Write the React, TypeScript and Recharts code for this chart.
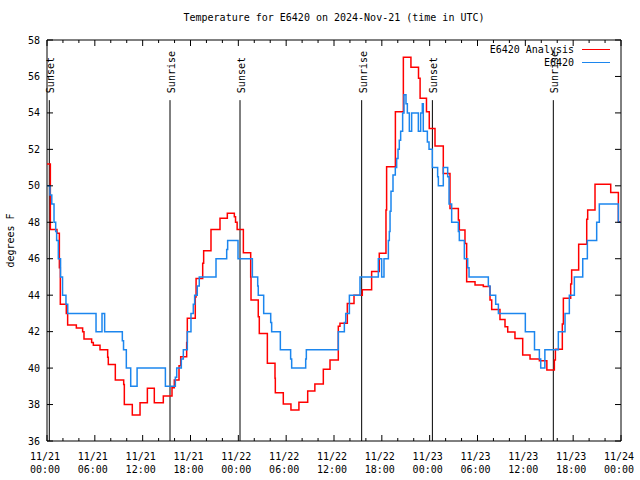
import React from "react";
import {
  LineChart,
  Line,
  XAxis,
  YAxis,
  ReferenceLine,
  ReferenceArea,
  Legend,
} from "recharts";

const FONT = "'DejaVu Sans Mono', monospace";
const PLOT_TOP = 40;
const PLOT_RIGHT = 621;

// [hours after 11/21 00:00 UTC, degrees F] - step data
const analysis: [number, number][] = [
  [0, 51.2], [0.42, 47.6], [1.25, 47.4], [1.55, 45.5], [1.67, 43.5], [2.42, 43.0],
  [2.59, 42.36], [3.68, 42.2], [4.47, 42.0], [4.64, 41.6], [5.6, 41.4], [5.81, 41.26],
  [6.65, 41.0], [7.61, 40.6], [7.69, 40.2], [8.57, 39.35], [9.62, 39.1], [9.7, 38.0],
  [10.7, 37.43], [11.67, 38.1], [12.59, 38.9], [13.46, 38.1], [14.59, 38.47], [15.68, 38.92],
  [15.97, 39.35], [16.56, 40.13], [16.77, 40.62], [17.52, 41.4], [17.6, 42.73], [18.6, 43.9],
  [18.7, 44.92], [19.53, 45.75], [19.65, 46.44], [20.57, 47.61], [21.7, 48.22], [22.62, 48.49],
  [23.5, 48.3], [23.65, 48.0], [23.85, 47.61], [24.63, 46.33], [25.55, 45.0], [25.59, 43.73],
  [26.5, 42.82], [26.63, 41.9], [27.64, 40.26], [28.6, 39.44], [28.64, 38.65], [29.64, 38.03],
  [30.6, 37.7], [31.6, 38.12], [32.7, 38.74], [33.6, 39.13], [34.66, 39.93], [35.5, 40.44],
  [36.54, 42.3], [36.75, 42.46], [37.67, 43.55], [38.51, 44.0], [39.55, 44.3], [40.72, 45.3],
  [41.68, 46.3], [42.52, 48.67], [42.6, 51.05], [43.7, 54.06], [44.7, 57.05], [45.65, 56.5],
  [46.6, 55.9], [46.8, 54.8], [47.6, 54.06], [47.95, 53.15], [48.67, 52.18], [49.71, 50.68],
  [50.55, 48.76], [51.6, 48.12], [51.72, 47.57], [52.43, 46.84], [52.64, 44.74], [53.69, 44.56],
  [54.73, 44.47], [55.57, 43.73], [55.78, 43.22], [56.82, 42.67], [57.45, 42.27], [57.79, 41.98],
  [58.7, 41.63], [59.67, 40.72], [60.59, 40.5], [61.76, 40.4], [62.7, 39.9], [63.64, 40.44],
  [63.77, 41.03], [64.64, 42.42], [64.77, 43.83], [65.69, 44.61], [65.81, 45.38], [66.69, 46.8],
  [67.7, 48.16], [67.82, 48.67], [68.74, 50.08], [70.71, 49.64], [71.67, 48.03], [72, 48.03],
];

const observed: [number, number][] = [
  [0, 50], [0.38, 49.5], [0.6, 49], [0.88, 48], [1.09, 47.5], [1.21, 47], [1.42, 46],
  [1.7, 45], [1.95, 44], [2.38, 43.5], [2.6, 43], [6.15, 42], [6.9, 43], [7.23, 42],
  [9.45, 41.5], [9.6, 41], [9.95, 40], [10.5, 39], [11.3, 40], [14.85, 39], [16.1, 39.5],
  [16.27, 40], [16.85, 40.5], [17.1, 41], [17.6, 42], [18.06, 43], [18.35, 43.5], [18.52, 44],
  [18.85, 44.5], [19.1, 45], [21.2, 46], [22.54, 46.5], [22.66, 47], [23.96, 46], [25.76, 45],
  [26.43, 44.5], [26.5, 44], [27.18, 43], [28.06, 42.5], [28.18, 42], [29.27, 41], [30.56, 40.5],
  [30.69, 40], [32.45, 40.5], [32.53, 41], [36.54, 42], [37.3, 42.5], [37.47, 43], [37.93, 44],
  [39.26, 45], [41.56, 46], [41.98, 45], [42.27, 46], [42.82, 47], [42.94, 47.5], [43.03, 48.6],
  [43.15, 49.7], [43.4, 50.6], [43.69, 51], [43.86, 51.5], [44.03, 52], [44.19, 52.5], [44.36, 53],
  [44.61, 54], [44.78, 55], [45.03, 54.5], [45.2, 54], [45.45, 53], [45.74, 54], [46.58, 53],
  [46.87, 54], [47.08, 54.5], [47.2, 53], [47.71, 52.4], [47.92, 52], [48.34, 51], [49.0, 50.5],
  [49.09, 50], [49.71, 51], [50.26, 50.5], [50.43, 49], [50.76, 48], [51.6, 47.5], [51.72, 47],
  [52.35, 46], [52.77, 45.5], [52.94, 45], [55.36, 44.5], [55.57, 44], [56.28, 43.5], [56.62, 43],
  [60.0, 42], [61.15, 41], [61.76, 40.5], [61.93, 40], [62.45, 41], [64.14, 42], [64.98, 43],
  [65.52, 44], [66.15, 45], [67.2, 46], [67.78, 47], [68.95, 48], [69.28, 49], [71.67, 48], [72, 48],
];

const seriesNames = ["E6420 Analysis", "E6420"];

const yTicks = [36, 38, 40, 42, 44, 46, 48, 50, 52, 54, 56, 58];
const xMajorHours = [0, 6, 12, 18, 24, 30, 36, 42, 48, 54, 60, 66, 72];
const xDateLabels = [
  "11/21", "11/21", "11/21", "11/21", "11/22", "11/22", "11/22",
  "11/22", "11/23", "11/23", "11/23", "11/23", "11/24",
];
const xTimeLabels = [
  "00:00", "06:00", "12:00", "18:00", "00:00", "06:00", "12:00",
  "18:00", "00:00", "06:00", "12:00", "18:00", "00:00",
];
const xAllTicks = Array.from({ length: 37 }, (_, i) => i * 2);

const sunHours = [0.29, 15.43, 24.21, 39.47, 48.34, 63.51];
const sunLabels = ["Sunset", "Sunrise", "Sunset", "Sunrise", "Sunset", "Sunrise"];
const sunLineTop = 54.7;

const analysisData = analysis.map(([t, v]) => ({ t, v }));
const observedData = observed.map(([t, v]) => ({ t, v }));

const XTick = ({ x, y, payload }: any) => {
  const i = xMajorHours.indexOf(payload.value);
  const len = i >= 0 ? 6 : 3;
  return (
    <g>
      <line x1={x} y1={y} x2={x} y2={y - len} stroke="#000" />
      <line x1={x} y1={PLOT_TOP} x2={x} y2={PLOT_TOP + len} stroke="#000" />
      {i >= 0 && (
        <text fontFamily={FONT} fontSize={10} fill="#000" textAnchor="middle">
          <tspan x={x - 2} y={y + 19}>{xDateLabels[i]}</tspan>
          <tspan x={x - 2} y={y + 32}>{xTimeLabels[i]}</tspan>
        </text>
      )}
    </g>
  );
};

const YTick = ({ x, y, payload }: any) => (
  <g>
    <line x1={x} y1={y} x2={x + 6} y2={y} stroke="#000" />
    <line x1={PLOT_RIGHT - 6} y1={y} x2={PLOT_RIGHT} y2={y} stroke="#000" />
    <text x={x - 7} y={y + 3.5} textAnchor="end" fontFamily={FONT} fontSize={10} fill="#000">
      {payload.value}
    </text>
  </g>
);

const renderLegend = (props: any) => {
  const items = [...(props.payload || [])].sort(
    (a: any, b: any) => seriesNames.indexOf(a.value) - seriesNames.indexOf(b.value)
  );
  return (
    <div style={{ fontFamily: FONT, fontSize: 10, color: "#000" }}>
      {items.map((p: any) => (
        <div
          key={p.value}
          style={{ display: "flex", justifyContent: "flex-end", alignItems: "center", height: 13 }}
        >
          <span>{p.value}</span>
          <span
            style={{
              width: 28,
              borderTop: `1.5px solid ${p.color}`,
              marginLeft: 8,
              marginRight: 11,
            }}
          />
        </div>
      ))}
    </div>
  );
};

export default function App() {
  return (
    <div
      style={{
        position: "absolute",
        left: 0,
        top: 0,
        width: 640,
        height: 480,
        background: "#fff",
      }}
    >
      <div
        style={{
          position: "absolute",
          left: 47,
          width: 574,
          top: 12,
          textAlign: "center",
          fontFamily: FONT,
          fontSize: 10,
          color: "#000",
        }}
      >
        Temperature for E6420 on 2024-Nov-21 (time in UTC)
      </div>
      <LineChart
        width={640}
        height={480}
        margin={{ top: 40, right: 19, left: 0, bottom: 0 }}
      >
        <XAxis
          dataKey="t"
          type="number"
          domain={[0, 72]}
          ticks={xAllTicks}
          interval={0}
          height={39}
          axisLine={false}
          tickLine={false}
          tickSize={0}
          tickMargin={0}
          tick={(p: any) => <XTick {...p} />}
          allowDataOverflow
        />
        <YAxis
          type="number"
          domain={[36, 58]}
          ticks={yTicks}
          interval={0}
          width={47}
          axisLine={false}
          tickLine={false}
          tickSize={0}
          tickMargin={0}
          tick={(p: any) => <YTick {...p} />}
          allowDataOverflow
          label={(p: any) => {
            const vb = p.viewBox || { x: 0, y: 40, height: 401 };
            const lx = vb.x + 14;
            const ly = vb.y + vb.height / 2;
            return (
              <text
                x={lx}
                y={ly}
                transform={`rotate(-90 ${lx} ${ly})`}
                textAnchor="middle"
                fontFamily={FONT}
                fontSize={10}
                fill="#000"
              >
                degrees F
              </text>
            );
          }}
        />
        <Legend
          verticalAlign="middle"
          align="center"
          layout="horizontal"
          wrapperStyle={{ top: 43, left: 440, width: 181, bottom: "auto", right: "auto" }}
          content={renderLegend}
        />
        {sunHours.map((h, i) => (
          <ReferenceLine
            key={`sun-${i}`}
            segment={[
              { x: h, y: 36 },
              { x: h, y: sunLineTop },
            ]}
            stroke="#000"
            strokeWidth={1}
            label={(p: any) => {
              const vx = p.viewBox.x + 5;
              const vy = p.viewBox.y - 7;
              return (
                <text
                  x={vx}
                  y={vy}
                  transform={`rotate(-90 ${vx} ${vy})`}
                  fontFamily={FONT}
                  fontSize={10}
                  fill="#000"
                >
                  {sunLabels[i]}
                </text>
              );
            }}
          />
        ))}
        <Line
          data={analysisData}
          dataKey="v"
          name={seriesNames[0]}
          type="stepAfter"
          stroke="#ff0000"
          strokeWidth={1.5}
          dot={false}
          activeDot={false}
          isAnimationActive={false}
        />
        <Line
          data={observedData}
          dataKey="v"
          name={seriesNames[1]}
          type="stepAfter"
          stroke="#1c86ee"
          strokeWidth={1.5}
          dot={false}
          activeDot={false}
          isAnimationActive={false}
        />
        <ReferenceArea
          x1={0}
          x2={72}
          y1={36}
          y2={58}
          fill="none"
          stroke="#000"
          strokeWidth={1}
          ifOverflow="visible"
        />
      </LineChart>
    </div>
  );
}
